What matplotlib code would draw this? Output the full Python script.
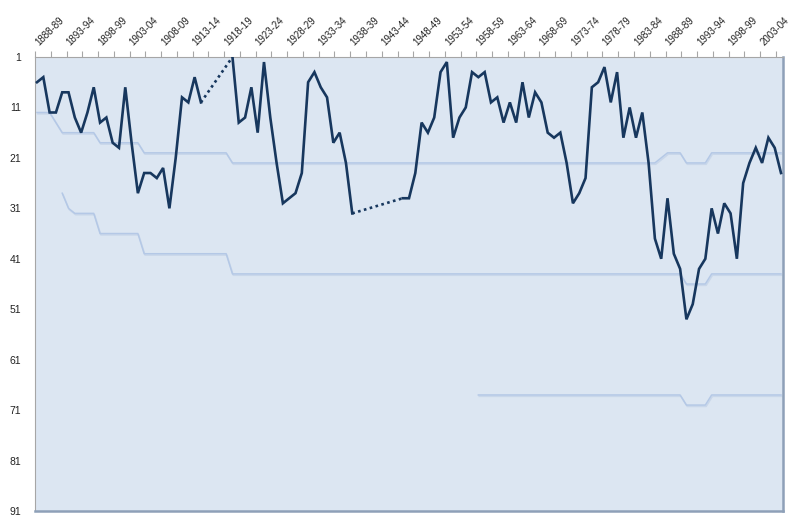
import numpy as np
import matplotlib.pyplot as plt
from matplotlib import patheffects as pe
from matplotlib.transforms import ScaledTranslation, blended_transform_factory

plt.rcParams['font.family'] = ['Liberation Sans', 'DejaVu Sans']

# seasons 1888-89 .. 2006-07, one per category
start_years = list(range(1888, 2007))

tick_labels = ['1888-89', '1893-94', '1898-99', '1903-04', '1908-09', '1913-14',
               '1918-19', '1923-24', '1928-29', '1933-34', '1938-39', '1943-44',
               '1948-49', '1953-54', '1958-59', '1963-64', '1968-69', '1973-74',
               '1978-79', '1983-84', '1988-89', '1993-94', '1998-99', '2003-04']

N = None
# overall league position (None = no league football, war years)
position = [6, 5, 12, 12, 8, 8, 13, 16, 12, 7,
            14, 13, 18, 19, 7, 18, 28, 24, 24, 25,
            23, 31, 21, 9, 10, 5, 10, N, N, N,
            N, 1, 14, 13, 7, 16, 2, 13, 22, 30,
            29, 28, 24, 6, 4, 7, 9, 18, 16, 22,
            32, N, N, N, N, N, N, N, 29, 29,
            24, 14, 16, 13, 4, 2, 17, 13, 11, 4,
            5, 4, 10, 9, 14, 10, 14, 6, 13, 8,
            10, 16, 17, 16, 22, 30, 28, 25, 7, 6,
            3, 10, 4, 17, 11, 17, 12, 22, 37, 41,
            29, 40, 43, 53, 50, 43, 41, 31, 36, 30,
            32, 41, 26, 22, 19, 22, 17, 19, 24]

# division boundaries (cumulative number of clubs)
tier1 = [12, 12, 12, 14, 16, 16, 16, 16, 16, 16,
         18, 18, 18, 18, 18, 18, 18, 20, 20, 20,
         20, 20, 20, 20, 20, 20, 20, 20, 20, 20,
         20, 22, 22, 22, 22, 22, 22, 22, 22, 22,
         22, 22, 22, 22, 22, 22, 22, 22, 22, 22,
         22, 22, 22, 22, 22, 22, 22, 22, 22, 22,
         22, 22, 22, 22, 22, 22, 22, 22, 22, 22,
         22, 22, 22, 22, 22, 22, 22, 22, 22, 22,
         22, 22, 22, 22, 22, 22, 22, 22, 22, 22,
         22, 22, 22, 22, 22, 22, 22, 22, 22, 21,
         20, 20, 20, 22, 22, 22, 22, 20, 20, 20,
         20, 20, 20, 20, 20, 20, 20, 20, 20]

tier2 = [N, N, N, N, 28, 31, 32, 32, 32, 32,
         36, 36, 36, 36, 36, 36, 36, 40, 40, 40,
         40, 40, 40, 40, 40, 40, 40, 40, 40, 40,
         40, 44, 44, 44, 44, 44, 44, 44, 44, 44,
         44, 44, 44, 44, 44, 44, 44, 44, 44, 44,
         44, 44, 44, 44, 44, 44, 44, 44, 44, 44,
         44, 44, 44, 44, 44, 44, 44, 44, 44, 44,
         44, 44, 44, 44, 44, 44, 44, 44, 44, 44,
         44, 44, 44, 44, 44, 44, 44, 44, 44, 44,
         44, 44, 44, 44, 44, 44, 44, 44, 44, 44,
         44, 44, 44, 46, 46, 46, 46, 44, 44, 44,
         44, 44, 44, 44, 44, 44, 44, 44, 44]

tier3 = [N] * 70 + [68, 68, 68, 68, 68, 68, 68, 68, 68, 68,
                    68, 68, 68, 68, 68, 68, 68, 68, 68, 68,
                    68, 68, 68, 68, 68, 68, 68, 68, 68, 68,
                    68, 68, 68, 70, 70, 70, 70, 68, 68, 68,
                    68, 68, 68, 68, 68, 68, 68, 68, 68]

x = np.arange(len(start_years))
pos = np.array([np.nan if v is None else v for v in position], dtype=float)

fig = plt.figure(figsize=(8, 5.22), dpi=100)
ax = fig.add_axes([35 / 800, 11 / 522, 748 / 800, 454 / 522])
ax.set_facecolor('#dce6f2')

shadow = [pe.SimpleLineShadow(offset=(0.6, -1.0), shadow_color='#c9d7ea', alpha=1.0),
          pe.Normal()]
for tier in (tier1, tier2, tier3):
    t = np.array([np.nan if v is None else v for v in tier], dtype=float)
    ax.plot(x, t, color='#b4c8e6', lw=1.1, path_effects=shadow, zorder=2)

ax.plot(x, pos, color='#17375e', lw=1.9, zorder=3, solid_joinstyle='miter')

# dotted joins across the war years
gap = np.isnan(pos)
i = 0
while i < len(pos):
    if gap[i]:
        j = i
        while gap[j]:
            j += 1
        ax.plot([x[i - 1], x[j]], [pos[i - 1], pos[j]], color='#17375e',
                lw=1.9, linestyle=(0, (1.0, 1.3)), zorder=3)
        i = j
    i += 1

left = -0.317
right = len(x) - 1 + 0.317
ax.set_xlim(left, right)
ax.set_ylim(91, 1)
ax.set_yticks(range(1, 92, 10))
ax.tick_params(axis='y', length=0, pad=10, labelsize=7.5, labelcolor='#222222')

# season labels above the top axis, slanted
ax.xaxis.tick_top()
ax.set_xticks([])
ax.set_xticks(np.arange(left, right + 0.01, 2.5), minor=True)
ax.tick_params(axis='x', which='minor', length=4, width=0.8, color='#a6a6a6',
               top=True, bottom=False)
trans = blended_transform_factory(ax.transData, ax.transAxes) + \
    ScaledTranslation(2 / 100, 11 / 100, fig.dpi_scale_trans)
for s in tick_labels:
    ax.text(start_years.index(int(s[:4])), 1, s, transform=trans, rotation=45,
            ha='left', va='baseline', rotation_mode='anchor', fontsize=7,
            color='#222222', clip_on=False)

for side in ('left', 'top'):
    ax.spines[side].set_color('#a6a6a6')
    ax.spines[side].set_linewidth(0.8)
for side in ('right', 'bottom'):
    ax.spines[side].set_color('#8ea0b8')
    ax.spines[side].set_linewidth(1.8)

fig.savefig('out.png', dpi=100)
